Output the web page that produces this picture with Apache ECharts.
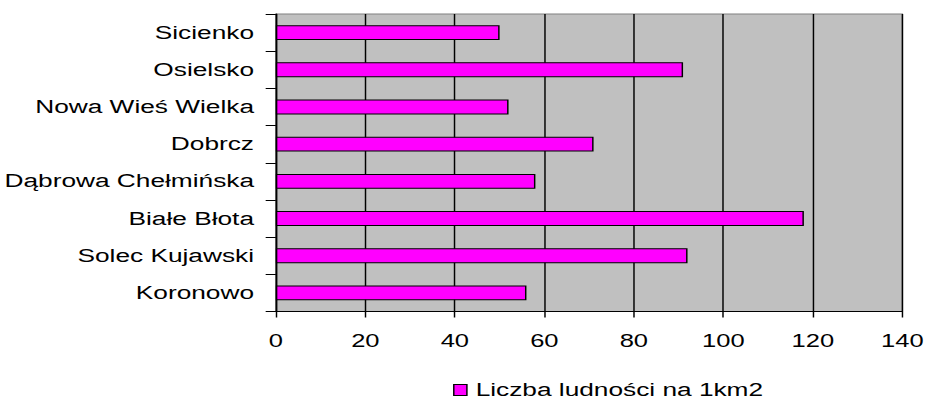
<!DOCTYPE html>
<html>
<head>
<meta charset="utf-8">
<script src="https://cdn.jsdelivr.net/npm/echarts@6/dist/echarts.min.js"></script>
<style>
html,body{margin:0;padding:0;background:#fff;overflow:hidden;}
#chart{width:636px;height:401px;transform:scaleX(1.45912);transform-origin:0 0;}
</style>
</head>
<body>
<div id="chart"></div>
<script>
// Categories listed bottom-to-top (ECharts category y axis starts at the bottom)
const categories = ['Koronowo','Solec Kujawski','Białe Błota','Dąbrowa Chełmińska','Dobrcz','Nowa Wieś Wielka','Osielsko','Sicienko'];
const values = [56, 92, 118, 58, 71, 52, 91, 50];
const seriesName = 'Liczba ludności na 1km2';
const valueTicks = [0, 20, 40, 60, 80, 100, 120, 140];

const font = '"Liberation Sans", Arial, sans-serif';
const chart = echarts.init(document.getElementById('chart'), null, {renderer: 'svg'});
chart.setOption({
  animation: false,
  backgroundColor: '#ffffff',
  textStyle: {fontFamily: font, color: '#000'},
  grid: {
    left: 187, right: 14.5, top: 14, bottom: 89.5,
    show: true, backgroundColor: '#c0c0c0', borderColor: '#808080', borderWidth: 1
  },
  legend: {
    data: [seriesName],
    left: 310.5, top: 381,
    padding: 0,
    icon: 'rect', itemWidth: 9, itemHeight: 11,
    itemStyle: {color: '#ff00ff', borderColor: '#000', borderWidth: 1},
    textStyle: {fontFamily: font, fontSize: 18, lineHeight: 18, color: '#000', padding: [0, 0, 0, 1]}
  },
  xAxis: {
    type: 'value',
    min: valueTicks[0], max: valueTicks[valueTicks.length - 1], interval: 20,
    axisLine: {show: true, lineStyle: {color: '#000', width: 1}},
    axisTick: {show: true, length: 6, lineStyle: {color: '#000', width: 1}},
    axisLabel: {fontFamily: font, fontSize: 17.5, color: '#000', margin: 20},
    splitLine: {show: true, lineStyle: {color: '#000', width: 1}}
  },
  yAxis: {
    type: 'category',
    data: categories,
    axisLine: {show: true, lineStyle: {color: '#000', width: 1}},
    axisTick: {show: true, length: 7, lineStyle: {color: '#000', width: 1}},
    axisLabel: {fontFamily: font, fontSize: 18, color: '#000', margin: 15},
    splitLine: {show: false}
  },
  series: [{
    name: seriesName,
    type: 'bar',
    data: values,
    barWidth: '40%',
    itemStyle: {color: '#ff00ff', borderColor: '#000', borderWidth: 1}
  }]
});
</script>
</body>
</html>
